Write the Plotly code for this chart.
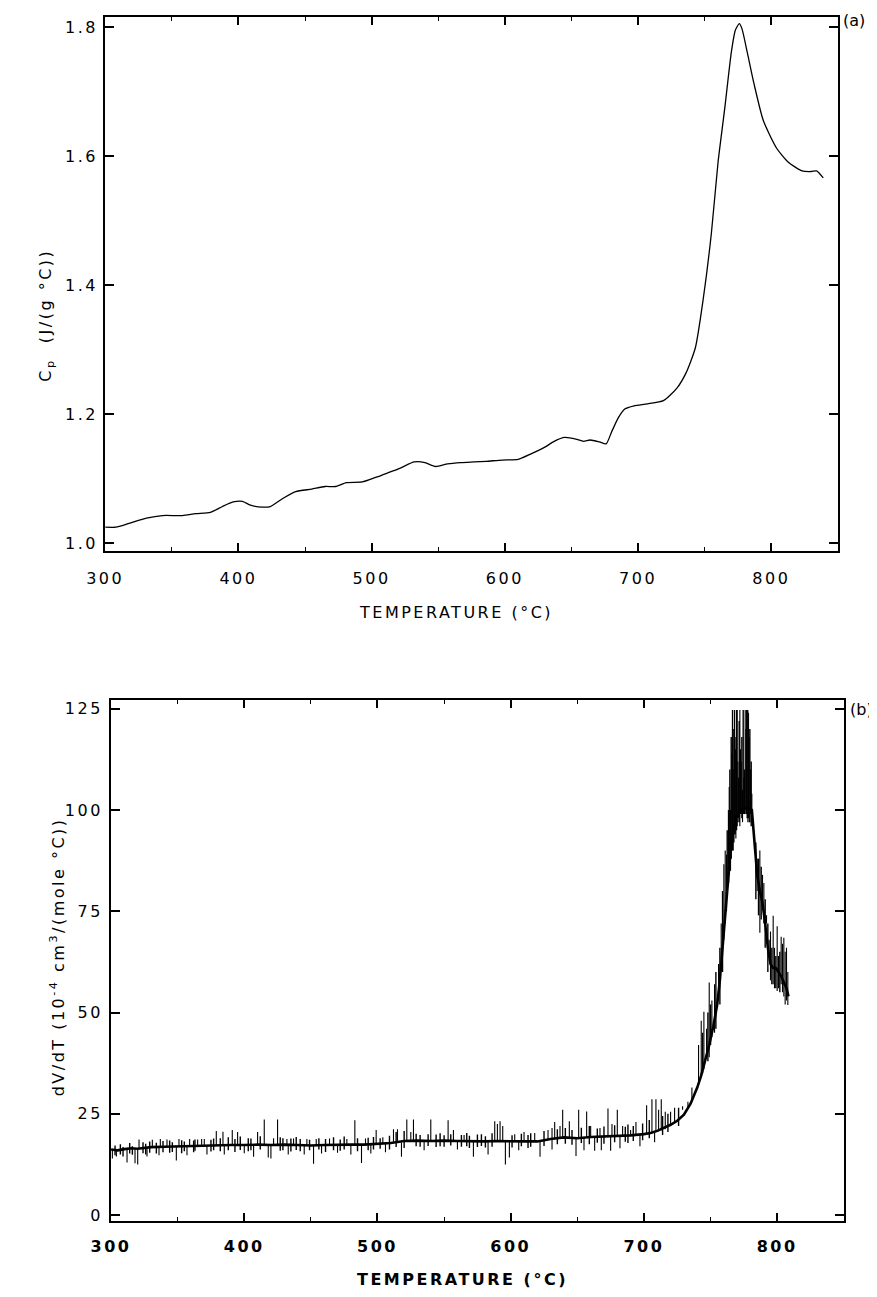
import plotly.graph_objects as go

# ---------------- data: panel (a) heat capacity ----------------
cp_temp = [300, 308, 318, 331, 343, 358, 368, 379, 388, 396, 403, 409, 418, 424, 433, 443,
           455, 465, 473, 481, 493, 503, 512, 522, 532, 540, 548, 557, 567, 577, 586, 598,
           610, 620, 630, 637, 645, 654, 659, 664, 671, 676, 680, 685, 690, 697, 707, 719,
           729, 736, 743, 749, 755, 760, 765, 770, 773, 776, 778, 782, 787, 794, 804, 813,
           823, 830, 834, 839]
cp_val = [1.025, 1.025, 1.031, 1.039, 1.043, 1.043, 1.046, 1.048, 1.057, 1.064, 1.065, 1.059,
          1.056, 1.057, 1.069, 1.080, 1.084, 1.088, 1.088, 1.094, 1.095, 1.102, 1.109, 1.117,
          1.126, 1.125, 1.119, 1.123, 1.125, 1.126, 1.127, 1.129, 1.130, 1.139, 1.149, 1.158,
          1.164, 1.161, 1.158, 1.160, 1.157, 1.154, 1.172, 1.194, 1.208, 1.213, 1.216, 1.221,
          1.240, 1.264, 1.303, 1.380, 1.480, 1.590, 1.673, 1.761, 1.795, 1.805, 1.797, 1.760,
          1.712, 1.655, 1.612, 1.590, 1.577, 1.576, 1.577, 1.566]

# ---------------- data: panel (b) dV/dT ----------------
dv_temp = [300, 305, 310, 315, 320, 330, 340, 350, 360, 370, 380, 390, 400, 410, 420, 430,
           440, 450, 460, 470, 480, 490, 500, 510, 520, 530, 540, 550, 560, 570, 580, 590,
           600, 610, 620, 630, 640, 650, 660, 670, 680, 690, 700, 705, 710, 715, 720, 725,
           730, 735, 740, 743, 746, 749, 752, 755, 757, 759, 761, 763, 765, 767, 769, 771,
           773, 775, 777, 779, 781, 782, 783, 785, 787, 789, 791, 793, 795, 797, 799, 801,
           803, 805, 807, 808.5]
dv_val = [16.2, 16.0, 16.3, 16.5, 16.4, 16.8, 16.9, 17.0, 17.0, 17.1, 17.2, 17.3, 17.3, 17.4,
          17.3, 17.4, 17.3, 17.2, 17.3, 17.4, 17.4, 17.4, 17.6, 17.8, 18.3, 18.4, 18.3, 18.4,
          18.3, 18.2, 18.2, 18.3, 18.2, 18.2, 18.2, 18.8, 19.2, 19.0, 19.3, 19.4, 19.5, 19.7,
          20.0, 20.3, 20.8, 21.5, 22.3, 23.3, 24.8, 27.5, 31.5, 34.5, 38.0, 42.0, 46.5, 52.0,
          58.0, 66.0, 74.0, 83.0, 90.0, 95.0, 98.0, 99.5, 100.0, 100.5, 100.5, 100.5, 100.0,
          96.0, 90.0, 84.0, 80.0, 77.0, 72.0, 66.0, 62.0, 61.0, 61.0, 60.0, 59.0, 57.5, 56.0,
          54.0]

# large noise spikes of panel (b): temperature, lower end, upper end
spike_temp = [301, 304, 312, 318, 320, 321, 327, 331, 336, 337, 342, 349, 351, 357, 359, 365,
              368, 370, 372, 379, 384, 385, 391, 395, 400, 407, 410, 415, 418, 420, 422, 425,
              432, 433, 437, 445, 447, 452, 454, 458, 464, 470, 477, 480, 483, 488, 491, 495,
              499, 504, 506, 512, 515, 518, 522, 525, 527, 535, 540, 553, 557, 560, 565, 572,
              583, 588, 590, 592, 594, 596, 599, 603, 606, 610, 618, 622, 628, 631, 633, 637,
              639, 644, 649, 651, 655, 657, 660, 663, 667, 668, 673, 675, 676, 680, 682, 684,
              690, 694, 697, 702, 706, 708, 709, 711, 713, 716, 720, 723, 729, 733, 736, 741,
              743, 745, 747, 749, 751, 753, 756, 758, 760, 761, 762, 764, 765, 766, 767, 768,
              769, 770, 770.5, 771, 772, 772.5, 773, 774, 775, 776, 776.5, 777, 778, 778.5,
              779, 780, 781, 783, 785, 787, 789, 790, 792, 794, 795, 797, 798, 800, 801, 803,
              804, 805, 806, 807, 808]
spike_low = [14.0, 14.5, 13.0, 12.8, 12.5, 16.4, 14.5, 16.7, 14.8, 16.8, 16.9, 13.5, 17.0, 14.8,
             17.0, 17.0, 17.1, 17.1, 15.0, 17.2, 17.2, 15.0, 17.3, 17.3, 15.3, 14.4, 17.4, 17.4,
             14.2, 14.0, 17.3, 17.3, 17.4, 15.0, 17.4, 15.0, 17.3, 12.7, 17.2, 15.2, 17.3, 15.4,
             17.4, 15.0, 17.4, 12.9, 17.4, 15.2, 17.6, 17.7, 15.5, 18.1, 18.1, 14.4, 18.3, 18.4,
             18.4, 16.0, 18.3, 18.4, 18.3, 16.2, 18.3, 14.4, 15.0, 18.2, 18.2, 18.2, 18.3, 12.5,
             14.2, 18.2, 16.0, 18.2, 18.2, 14.4, 18.5, 16.2, 19.0, 19.1, 19.2, 19.1, 14.6, 19.0,
             16.0, 19.2, 19.3, 15.9, 19.4, 16.0, 19.4, 15.9, 19.4, 19.5, 16.5, 19.6, 19.7, 19.8,
             17.0, 20.1, 20.3, 18.0, 20.6, 20.7, 20.9, 21.2, 22.3, 23.0, 26.0, 26.5, 28.0, 33.0,
             34.0, 36.0, 39.0, 39.0, 44.0, 45.0, 55.0, 63.0, 68.0, 72.0, 75.0, 84.0, 85.0, 90.0,
             90.0, 94.0, 93.0, 96.0, 97.0, 98.0, 96.0, 99.0, 99.0, 97.0, 99.0, 99.0, 100.0, 99.0,
             97.0, 98.0, 97.0, 99.0, 97.0, 92.0, 80.0, 69.7, 76.0, 72.0, 74.0, 64.0, 58.0, 57.0,
             56.0, 55.3, 56.0, 57.0, 55.0, 54.0, 52.0, 53.0, 51.9, 52.5]
spike_high = [16.2, 16.0, 16.3, 16.5, 16.4, 18.7, 16.6, 18.6, 16.9, 18.8, 18.7, 17.0, 18.8, 17.0,
              18.8, 18.7, 18.8, 18.8, 17.1, 20.8, 20.6, 17.2, 21.0, 20.5, 17.3, 17.4, 20.5, 23.6,
              17.3, 17.3, 19.0, 23.6, 18.8, 17.4, 18.9, 17.3, 18.8, 17.2, 18.8, 17.3, 18.9, 17.4,
              18.8, 17.4, 23.4, 17.4, 18.9, 17.5, 21.0, 19.2, 17.7, 21.2, 21.2, 18.0, 23.6, 20.5,
              23.6, 18.3, 23.6, 23.4, 21.0, 18.3, 19.8, 18.2, 18.2, 23.2, 22.5, 23.2, 22.0, 18.3,
              18.2, 20.0, 18.2, 20.5, 20.3, 18.2, 21.0, 21.5, 23.0, 22.0, 26.0, 23.2, 19.0, 26.0,
              19.1, 25.6, 22.0, 19.3, 21.5, 19.4, 26.3, 19.4, 22.5, 26.0, 19.5, 22.0, 21.0, 23.0,
              19.8, 27.1, 28.6, 20.4, 28.6, 26.0, 28.6, 25.5, 25.5, 26.5, 26.9, 28.0, 31.5, 42.0,
              48.0, 50.2, 46.0, 57.4, 53.0, 57.0, 62.0, 72.0, 86.6, 90.0, 89.0, 105.7, 100.0,
              114.0, 110.0, 124.7, 118.0, 124.7, 112.0, 108.0, 124.7, 115.0, 112.0, 105.0, 108.0,
              124.7, 120.0, 124.7, 124.7, 124.0, 118.0, 110.0, 104.0, 92.0, 88.0, 90.0, 84.0,
              82.0, 72.0, 68.0, 70.0, 73.9, 66.0, 71.3, 64.0, 68.7, 67.0, 68.5, 65.0, 66.0, 60.0]

# small jitter of panel (b): temperature, lower end, upper end
jitter_temp = [303, 307, 309, 314, 316, 324, 326, 329, 334, 339, 344, 346, 353, 355, 362, 363,
               375, 377, 382, 388, 393, 397, 403, 405, 412, 427, 429, 435, 439, 442, 449, 456,
               461, 467, 472, 475, 485, 493, 497, 502, 509, 514, 520, 529, 532, 538, 544, 547,
               550, 555, 563, 567, 569, 575, 578, 581, 586, 601, 608, 613, 615, 625, 635, 641,
               646, 653, 659, 665, 670, 678, 686, 688, 692, 699, 704, 714, 718, 726,
               744, 748, 750, 754, 757, 759, 762.5, 763.5, 764.5, 765.5, 766.5, 767.5, 768.5,
               769.5, 771.5, 773.5, 774.5, 775.5, 777.5, 779.5, 780.5, 784, 786, 788, 791, 793,
               796, 799, 802]
jitter_low = [14.8, 15.0, 14.5, 15.2, 14.9, 15.3, 15.0, 15.4, 15.2, 15.5, 15.4, 15.6, 15.3, 15.8,
              15.5, 15.9, 15.7, 16.0, 15.8, 16.0, 15.6, 16.1, 15.8, 16.0, 16.2, 15.9, 16.0, 15.7,
              16.1, 15.8, 16.0, 16.2, 15.6, 16.0, 15.9, 16.2, 15.8, 16.0, 16.2, 16.4, 16.2, 16.8,
              16.6, 17.0, 16.9, 17.1, 16.8, 17.0, 16.9, 17.2, 16.9, 17.0, 16.6, 16.8, 17.1, 16.7,
              16.9, 16.7, 17.0, 16.6, 16.9, 17.1, 17.5, 17.6, 17.4, 17.8, 17.5, 17.9, 17.6, 18.0,
              18.1, 17.8, 18.3, 18.5, 19.0, 19.8, 20.5, 22.0,
              35.0, 38.0, 42.0, 46.0, 52.0, 60.0, 80.0, 82.0, 86.0, 88.0, 90.0, 92.0, 94.0,
              95.0, 97.0, 98.0, 99.0, 99.0, 98.0, 97.0, 96.0, 78.0, 74.0, 73.0, 66.0, 60.0,
              57.0, 56.0, 55.0]
jitter_high = [17.2, 17.5, 16.8, 17.8, 17.0, 18.0, 17.6, 18.2, 17.9, 18.3, 18.4, 18.0, 18.5,
               18.2, 18.4, 18.7, 18.6, 18.9, 19.0, 19.2, 18.8, 19.4, 19.0, 18.9, 19.5, 19.2,
               19.0, 18.9, 19.3, 18.8, 18.6, 19.0, 18.8, 19.2, 18.7, 19.4, 19.0, 19.1, 19.3,
               19.0, 19.6, 20.5, 20.8, 20.1, 19.8, 20.0, 19.9, 20.2, 19.7, 20.0, 19.8, 20.3,
               19.6, 19.9, 20.0, 19.5, 20.2, 19.7, 20.1, 19.8, 20.2, 20.8, 21.2, 21.5, 21.0,
               21.6, 22.0, 21.4, 21.9, 22.2, 21.8, 22.4, 22.0, 22.6, 23.5, 24.5, 25.0, 26.5,
               45.0, 50.0, 52.0, 60.0, 66.0, 80.0, 95.0, 100.0, 110.0, 118.0, 124.7, 120.0,
               115.0, 124.7, 122.0, 118.0, 124.7, 110.0, 124.7, 120.0, 112.0, 92.0, 88.0, 86.0,
               78.0, 72.0, 66.0, 64.0, 65.0]

x_ticks = [300, 400, 500, 600, 700, 800]
cp_ticks = [1.0, 1.2, 1.4, 1.6, 1.8]
dv_ticks = [0, 25, 50, 75, 100, 125]

# ---------------- figure ----------------
# the page adds an 8 px body margin, so the figure is placed 8 px right/down
OFF = 8
W, H = 877 - OFF, 1297 - OFF
FONT = "DejaVu Sans"
SP = "letter-spacing:2.5px"


def spaced(s):
    return f'<span style="{SP}">{s}</span>'


def px_x(p):
    return (p - OFF) / W


def px_y(p):
    return 1 - (p - OFF) / H


def segments(ts, los, his):
    xs, ys = [], []
    for t, lo, hi in zip(ts, los, his):
        xs += [t, t, None]
        ys += [lo, hi, None]
    return xs, ys


sx, sy = segments(spike_temp, spike_low, spike_high)
jx, jy = segments(jitter_temp, jitter_low, jitter_high)

fig = go.Figure()
fig.add_trace(go.Scatter(x=cp_temp, y=cp_val, mode="lines",
                         line=dict(color="black", width=1.3, shape="spline", smoothing=0.6),
                         xaxis="x", yaxis="y", showlegend=False, hoverinfo="skip"))
fig.add_trace(go.Scatter(x=dv_temp, y=dv_val, mode="lines",
                         line=dict(color="black", width=2.6),
                         xaxis="x2", yaxis="y2", showlegend=False, hoverinfo="skip"))
fig.add_trace(go.Scatter(x=jx, y=jy, mode="lines",
                         line=dict(color="black", width=1.4),
                         xaxis="x2", yaxis="y2", showlegend=False, hoverinfo="skip"))
fig.add_trace(go.Scatter(x=sx, y=sy, mode="lines",
                         line=dict(color="black", width=1.1),
                         xaxis="x2", yaxis="y2", showlegend=False, hoverinfo="skip"))

common = dict(showline=True, linecolor="black", linewidth=2, mirror="allticks",
              ticks="inside", tickcolor="black", tickwidth=1.5, showgrid=False,
              zeroline=False)
minor = dict(dtick=50, tick0=300, ticklen=4, ticks="inside", tickcolor="black", tickwidth=1.2)
tick_font = dict(family=FONT, size=16, color="black")

fig.update_layout(
    width=W, height=H,
    paper_bgcolor="white", plot_bgcolor="white",
    margin=dict(l=0, r=0, t=0, b=0, pad=0),
    showlegend=False,
    xaxis=dict(domain=[px_x(87), px_x(837)], range=[300, 850], anchor="y",
               tickvals=x_ticks, ticktext=[spaced(v) for v in x_ticks], ticklen=8,
               tickfont=tick_font, ticklabelstandoff=11, minor=minor, **common),
    yaxis=dict(domain=[px_y(553), px_y(17)], range=[0.9876, 1.8154], anchor="x",
               tickvals=cp_ticks, ticktext=[spaced(f"{v:.1f}") for v in cp_ticks],
               ticklen=9, tickfont=tick_font, ticklabelstandoff=2, **common),
    xaxis2=dict(domain=[px_x(93), px_x(843)], range=[300, 850], anchor="y2",
                tickvals=x_ticks, ticktext=[spaced(v) for v in x_ticks], ticklen=8,
                tickfont=dict(family=FONT, size=16, color="black", weight="bold"),
                ticklabelstandoff=10, minor=minor, **common),
    yaxis2=dict(domain=[px_y(1225), px_y(702)], range=[-1.5, 127.2], anchor="x2",
                tickvals=dv_ticks, ticktext=[spaced(v) for v in dv_ticks], ticklen=9,
                tickfont=tick_font, ticklabelstandoff=3, **common),
)

title_font = dict(family=FONT, size=16, color="black")


def note(text, x, y, angle=0, bold=False):
    body = spaced(text)
    if bold:
        body = f"<b>{body}</b>"
    fig.add_annotation(text=body, x=px_x(x), y=px_y(y), xref="paper", yref="paper",
                       showarrow=False, xanchor="center", yanchor="middle",
                       textangle=angle, font=title_font)


note("TEMPERATURE (°C)", 446, 614)
note("TEMPERATURE (°C)", 453, 1283, bold=True)
note("C<sub>p</sub>  (J/(g °C))", 26, 316, angle=-90)
note("dV/dT (10<sup>-4</sup> cm<sup>3</sup>/(mole °C))", 38, 960, angle=-90)
fig.add_annotation(text="(a)", x=px_x(853), y=px_y(21), xref="paper", yref="paper",
                   showarrow=False, xanchor="center", yanchor="middle",
                   font=dict(family=FONT, size=16, color="black"))
fig.add_annotation(text="(b)", x=px_x(861), y=px_y(712), xref="paper", yref="paper",
                   showarrow=False, xanchor="center", yanchor="middle",
                   font=dict(family=FONT, size=16, color="black"))

fig.write_html("out.html")
